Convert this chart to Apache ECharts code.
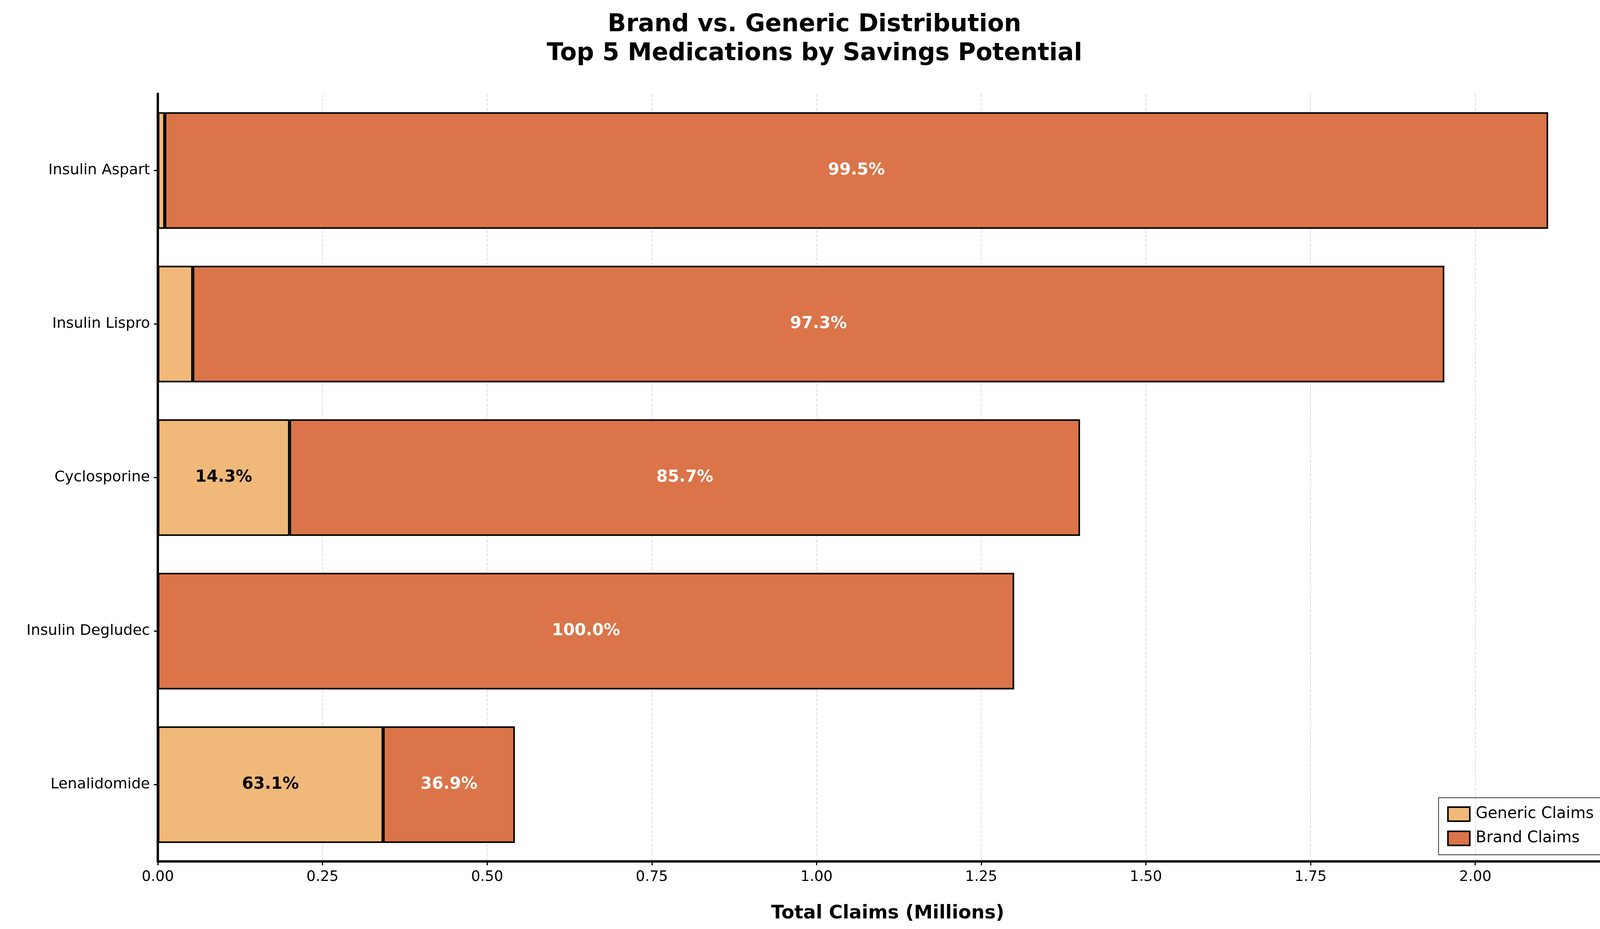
<!DOCTYPE html>
<html><head><meta charset="utf-8">
<script src="https://cdn.jsdelivr.net/npm/echarts@6/dist/echarts.min.js"></script>
<style>html,body{margin:0;padding:0;background:#fff}#c{width:4170px;height:2378px}</style>
</head><body><div id="c"></div>
<script>
const categories = ["Insulin Aspart","Insulin Lispro","Cyclosporine","Insulin Degludec","Lenalidomide"];
const genericClaims = [0.0106, 0.053, 0.200, 0.0, 0.342];
const brandClaims = [2.100, 1.900, 1.200, 1.300, 0.200];
const xTicks = [0,0.25,0.5,0.75,1.0,1.25,1.5,1.75,2.0];

const pct = (i, which) => {
  const t = genericClaims[i] + brandClaims[i];
  return (which === 'g' ? genericClaims[i] : brandClaims[i]) / t * 100;
};
const chart = echarts.init(document.getElementById('c'));
const FONT = 'DejaVu Sans';
chart.setOption({
  backgroundColor:'#fff',
  textStyle:{fontFamily:FONT},
  title:{text:'Brand vs. Generic Distribution\nTop 5 Medications by Savings Potential',left:'center',top:22,
    textStyle:{fontSize:62,fontWeight:'bold',color:'#000',fontFamily:FONT,lineHeight:74}},
  grid:{left:404,right:29,top:240,bottom:173,containLabel:false},
  legend:{right:62,bottom:190,orient:'vertical',itemWidth:56,itemHeight:36,itemGap:22,icon:'rect',
    padding:[22,28,22,22],borderColor:'#333',borderWidth:2,
    itemStyle:{borderColor:'#000',borderWidth:4},
    textStyle:{fontSize:40,fontFamily:FONT,color:'#000',padding:[0,0,0,10]},
    data:['Generic Claims','Brand Claims']},
  xAxis:{type:'value',min:0,max:2.216,interval:0.25,
    name:'Total Claims (Millions)',nameLocation:'middle',nameGap:110,
    nameTextStyle:{fontSize:48,fontWeight:'bold',color:'#000',fontFamily:FONT},
    axisLine:{show:true,lineStyle:{color:'#000',width:6}},
    axisTick:{show:true,length:10,lineStyle:{color:'#000',width:3}},
    axisLabel:{fontSize:37,color:'#000',margin:22,fontFamily:FONT,
      formatter:v=>xTicks.some(t=>Math.abs(t-v)<1e-6)?v.toFixed(2):''},
    splitLine:{show:true,lineStyle:{color:'#ccc',type:'dashed',width:2,opacity:0.7}}},
  yAxis:{type:'category',data:categories,inverse:true,
    axisLine:{show:true,lineStyle:{color:'#000',width:6}},
    axisTick:{show:true,length:10,alignWithLabel:true,lineStyle:{color:'#000',width:3}},
    axisLabel:{fontSize:38,color:'#000',margin:20,fontFamily:FONT}},
  series:[
    {name:'Generic Claims',type:'bar',stack:'a',barWidth:'76%',data:genericClaims,
     itemStyle:{color:'#F0B97A',borderColor:'#000',borderWidth:4},
     label:{show:true,position:'inside',fontSize:42,fontWeight:'bold',color:'#000',fontFamily:FONT,
       formatter:p=>pct(p.dataIndex,'g')>5?pct(p.dataIndex,'g').toFixed(1)+'%':''}},
    {name:'Brand Claims',type:'bar',stack:'a',barWidth:'76%',data:brandClaims,
     itemStyle:{color:'#DB7449',borderColor:'#000',borderWidth:4},
     label:{show:true,position:'inside',fontSize:42,fontWeight:'bold',color:'#fff',fontFamily:FONT,
       formatter:p=>pct(p.dataIndex,'b')>5?pct(p.dataIndex,'b').toFixed(1)+'%':''}}
  ]
});
</script></body></html>
